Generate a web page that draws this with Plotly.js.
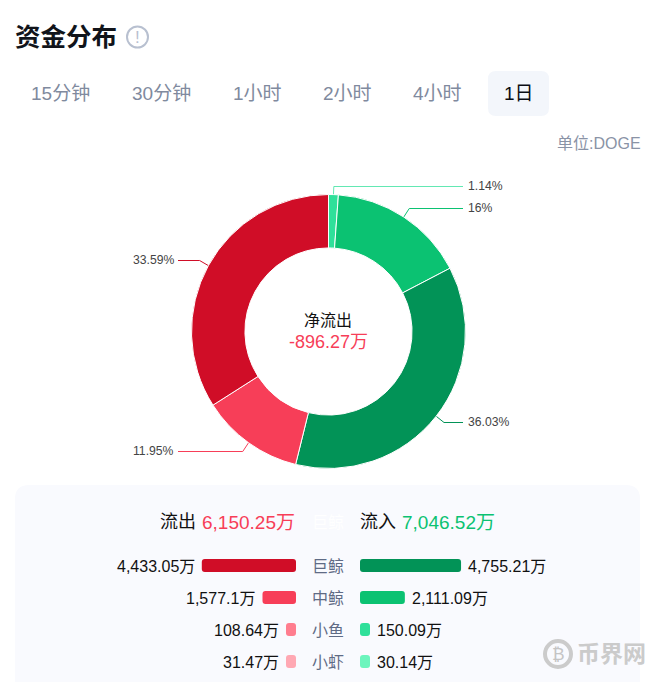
<!DOCTYPE html>
<html><head><meta charset="utf-8">
<script src="https://cdn.plot.ly/plotly-3.0.1.min.js"></script>
<style>html,body{margin:0;padding:0;background:#fff}#c{width:656px;height:682px}</style>
</head><body><div id="c"></div>
<script>
const W=656,H=682;
const FONT='"Liberation Sans","Noto Sans CJK SC",Arial,sans-serif';
// data
const tabs=['15分钟','30分钟','1小时','2小时','4小时','1日'];
const rows=['巨鲸','中鲸','小鱼','小虾'];
const outValues=[4433.05,1577.1,108.64,31.47];
const inValues=[4755.21,2111.09,150.09,30.14];
const outLabels=['4,433.05万','1,577.1万','108.64万','31.47万'];
const inLabels=['4,755.21万','2,111.09万','150.09万','30.14万'];
const outColors=['#d00d27','#f73e58','#ff7d8e','#ffa8b3'];
const inColors=['#029357','#0bc272','#2fe09a','#6cf5bd'];
const pieValues=[150.09,2111.09,4755.21,1577.1,4433.05];
const pieColors=['#2fe09a','#0bc272','#029357','#f73e58','#d00d27'];
const pieLabels=['1.14%','16%','36.03%','11.95%','33.59%'];
const labelY=[186,208,422,451,260];

const CX=328.5,CY=331.5,R=137;
const PXU=0.02125, MINBAR=10/PXU, SPAN=296/PXU;
const fx=x=>x/W, fy=y=>1-y/H;
const px=(x,y,text,size,color,anchor,extra)=>Object.assign({xref:'x3',yref:'y3',x,y,text,showarrow:false,
  xanchor:anchor||'center',yanchor:'middle',font:{family:FONT,size,color},borderpad:0,borderwidth:0},extra||{});
const rr=(x0,y0,x1,y1,r,fill)=>{
  const P=(x,y)=>`${fx(x)},${fy(y)}`;
  return {type:'path',xref:'paper',yref:'paper',layer:'below',line:{width:0},fillcolor:fill,
  path:`M${P(x0+r,y0)}L${P(x1-r,y0)}Q${P(x1,y0)} ${P(x1,y0+r)}L${P(x1,y1-r)}Q${P(x1,y1)} ${P(x1-r,y1)}L${P(x0+r,y1)}Q${P(x0,y1)} ${P(x0,y1-r)}L${P(x0,y0+r)}Q${P(x0,y0)} ${P(x0+r,y0)}Z`};
};
const circle=(x0,y0,x1,y1,color,w)=>({type:'circle',xref:'paper',yref:'paper',x0:fx(x0),x1:fx(x1),y0:fy(y1),y1:fy(y0),line:{color,width:w},layer:'below'});

const traces=[];
traces.push({type:'pie',values:pieValues,sort:false,direction:'clockwise',rotation:0,hole:0.61,
  marker:{colors:pieColors,line:{color:'#fff',width:1}},textinfo:'none',hoverinfo:'skip',showlegend:false,
  domain:{x:[(CX-R)/W,(CX+R)/W],y:[1-(CY+R)/H,1-(CY-R)/H]}});

// leader lines derived from the slice angles
const total=pieValues.reduce((a,b)=>a+b,0);
let cum=0;
const annotations=[];
pieValues.forEach((v,i)=>{
  const a=(cum+v/2)/total*2*Math.PI; cum+=v;
  const s=Math.sin(a),c=Math.cos(a),right=s>0;
  const x0=CX+R*s,y0=CY-R*c,x1=CX+(R+10)*s,y1=labelY[i];
  traces.push({type:'scatter',mode:'lines',xaxis:'x3',yaxis:'y3',x:[x0,x1,right?463:178],y:[y0,y1+0.5,y1+0.5],
    line:{color:pieColors[i],width:1},opacity:i==0?0.75:1,hoverinfo:'skip',showlegend:false});
  annotations.push(px(right?468:174,y1,pieLabels[i],12.2,'#444',right?'left':'right'));
});

// a bar with an explicit base gets all four corners rounded
const len=a=>a.map(v=>Math.max(v,MINBAR));
const addBar=(xa,vals,colors)=>{
  traces.push({type:'bar',orientation:'h',xaxis:xa,yaxis:'y',base:0.001,x:len(vals),y:rows,marker:{color:colors,line:{width:0}},width:13/32,hoverinfo:'skip',showlegend:false});
};
addBar('x',outValues,outColors);
addBar('x2',inValues,inColors);

rows.forEach((r,i)=>{
  annotations.push({xref:'x',yref:'y',x:Math.max(outValues[i],MINBAR),y:r,xshift:-5,yshift:-1,text:outLabels[i],showarrow:false,xanchor:'right',yanchor:'middle',font:{family:FONT,size:16,color:'#111'}});
  annotations.push({xref:'x2',yref:'y',x:Math.max(inValues[i],MINBAR),y:r,xshift:5,yshift:-1,text:inLabels[i],showarrow:false,xanchor:'left',yanchor:'middle',font:{family:FONT,size:16,color:'#111'}});
  annotations.push(px(328,566+32*i,r,16,'#5f6b85'));
});

annotations.push(px(15,37,'<b>资金分布</b>',25.5,'#11141a','left'));
annotations.push(px(137.5,37,'!',17,'#b8c0d0'));
const tabX=[60.5,161.5,257.5,347,437.5,518.5];
tabs.forEach((t,i)=>annotations.push(px(tabX[i],93,t,19,i==5?'#0a0d14':'#808a9e')));
annotations.push(px(641,143,'单位:DOGE',16,'#8a93a6','right'));
annotations.push(px(328,320,'净流出',16,'#111'));
annotations.push(px(328,341.5,'-896.27万',18,'#f73e58'));
annotations.push(px(160,522,'流出',18,'#111','left'));
annotations.push(px(202,522,'6,150.25万',19,'#f73e58','left'));
annotations.push(px(328,522,'巨鲸',16,'#ffffff'));
annotations.push(px(360,522,'流入',18,'#111','left'));
annotations.push(px(402,522,'7,046.52万',19,'#0bc272','left'));
annotations.push(px(558,654,'₿',17,'#c4c4c4'));
annotations.push(px(577,654,'<b>币界网</b>',23,'#cbcbcb','left'));

const shapes=[
  rr(15,485,640,700,14,'#f9fafe'),
  rr(488,71,549,116,8,'#f3f6fb'),
  circle(127,26.5,148,47.5,'#b8c0d0',2),
  circle(545,641,571,667,'#cbcbcb',4)
];

const hidden={visible:false,fixedrange:true};
const layout={width:W,height:H,margin:{l:0,r:0,t:0,b:0,pad:0},paper_bgcolor:'#fff',plot_bgcolor:'rgba(0,0,0,0)',
  showlegend:false,barcornerradius:3,barmode:'overlay',
  xaxis:Object.assign({},hidden,{domain:[0,296/W],range:[SPAN,0],anchor:'y'}),
  xaxis2:Object.assign({},hidden,{domain:[360/W,656/W],range:[0,SPAN],anchor:'y'}),
  xaxis3:Object.assign({},hidden,{domain:[0,1],range:[0,W],anchor:'y3'}),
  yaxis:Object.assign({},hidden,{domain:[1-677.5/H,1-549.5/H],type:'category',categoryorder:'array',categoryarray:rows,range:[3.5,-0.5],anchor:'x'}),
  yaxis3:Object.assign({},hidden,{domain:[0,1],range:[H,0],anchor:'x3'}),
  shapes,annotations};
Plotly.newPlot('c',traces,layout,{displayModeBar:false,staticPlot:true,responsive:false});
</script></body></html>
